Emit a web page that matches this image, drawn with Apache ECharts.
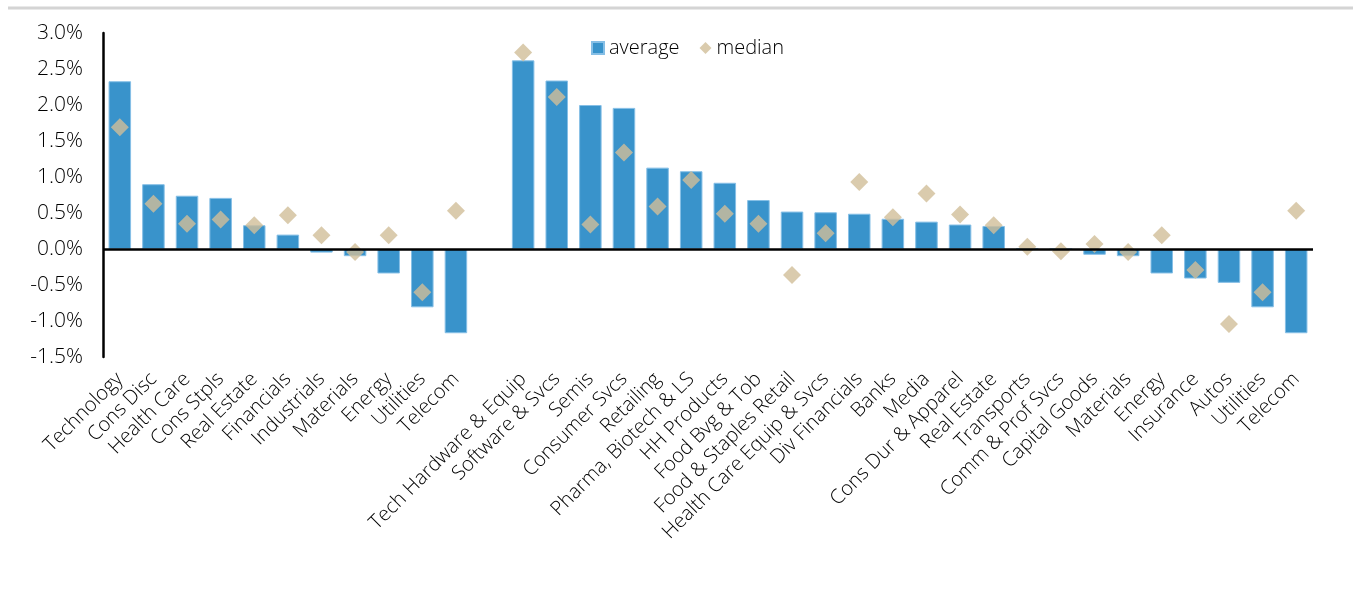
<!DOCTYPE html>
<html>
<head>
<meta charset="utf-8">
<script src="https://cdn.jsdelivr.net/npm/echarts@6/dist/echarts.min.js"></script>
<style>
  html, body { margin: 0; padding: 0; background: #fff; }
  #chart { width: 1353px; height: 610px; }
</style>
</head>
<body>
<div id="chart"></div>
<script>
// Sectors, a spacer slot, then industry groups
const categories = [
  'Technology', 'Cons Disc', 'Health Care', 'Cons Stpls', 'Real Estate', 'Financials',
  'Industrials', 'Materials', 'Energy', 'Utilities', 'Telecom',
  '',
  'Tech Hardware & Equip', 'Software & Svcs', 'Semis', 'Consumer Svcs', 'Retailing',
  'Pharma, Biotech & LS', 'HH Products', 'Food Bvg & Tob', 'Food & Staples Retail',
  'Health Care Equip & Svcs', 'Div Financials', 'Banks', 'Media', 'Cons Dur & Apparel',
  'Real Estate', 'Transports', 'Comm & Prof Svcs', 'Capital Goods', 'Materials',
  'Energy', 'Insurance', 'Autos', 'Utilities', 'Telecom'
];

// Average return, %
const averageValues = [
  2.33, 0.90, 0.74, 0.71, 0.33, 0.20, -0.05, -0.10, -0.34, -0.81, -1.17,
  null,
  2.62, 2.34, 2.00, 1.96, 1.13, 1.08, 0.92, 0.68, 0.52, 0.51, 0.49, 0.42, 0.38, 0.34,
  0.32, 0.01, 0.00, -0.08, -0.10, -0.34, -0.41, -0.47, -0.81, -1.17
];

// Median return, %
const medianValues = [
  1.69, 0.63, 0.35, 0.41, 0.33, 0.47, 0.19, -0.04, 0.19, -0.60, 0.53,
  null,
  2.73, 2.11, 0.34, 1.34, 0.59, 0.96, 0.49, 0.35, -0.36, 0.22, 0.93, 0.44, 0.77, 0.48,
  0.33, 0.03, -0.03, 0.07, -0.04, 0.19, -0.29, -1.04, -0.60, 0.53
];

const yTicks = { min: -1.5, max: 3.0, step: 0.5 };

const FONT = '"Open Sans", "Noto Sans", sans-serif';
const chart = echarts.init(document.getElementById('chart'), null, { renderer: 'canvas' });

chart.setOption({
  animation: false,
  backgroundColor: '#ffffff',
  textStyle: { fontFamily: FONT },
  graphic: [{
    type: 'line',
    shape: { x1: 8, y1: 8, x2: 1353, y2: 8 },
    style: { stroke: '#d4d4d4', lineWidth: 3 },
    silent: true
  }],
  legend: {
    left: 586,
    top: 33,
    itemWidth: 12,
    itemHeight: 12,
    itemGap: 20,
    textStyle: { fontFamily: FONT, fontSize: 20, fontWeight: 300, color: '#000' },
    data: [
      { name: 'average', icon: 'rect' },
      { name: 'median', icon: 'diamond' }
    ]
  },
  grid: { left: 103, right: 40, top: 33, bottom: 253, containLabel: false },
  xAxis: {
    type: 'category',
    data: categories,
    axisLine: { show: false, onZero: false },
    axisTick: { show: false },
    axisLabel: {
      interval: 0,
      rotate: 45,
      margin: 19,
      fontFamily: FONT,
      fontSize: 20,
      fontWeight: 300,
      color: '#000'
    },
    splitLine: { show: false }
  },
  yAxis: {
    type: 'value',
    min: yTicks.min,
    max: yTicks.max,
    interval: yTicks.step,
    axisLine: { show: true, lineStyle: { color: '#000', width: 2.5 } },
    axisTick: { show: false },
    splitLine: { show: false },
    axisLabel: {
      margin: 20,
      fontFamily: FONT,
      fontSize: 21,
      fontWeight: 300,
      color: '#000',
      formatter: v => v.toFixed(1) + '%'
    }
  },
  series: [
    {
      name: 'average',
      type: 'bar',
      data: averageValues,
      barWidth: '67%',
      itemStyle: { color: '#3993cb', borderColor: '#86bfe6', borderWidth: 1 },
      markLine: {
        silent: true,
        symbol: 'none',
        label: { show: false },
        lineStyle: { color: '#000', width: 2.5, type: 'solid' },
        data: [{ yAxis: 0 }]
      },
      z: 2
    },
    {
      name: 'median',
      type: 'scatter',
      data: medianValues,
      symbol: 'diamond',
      symbolSize: 18,
      itemStyle: { color: '#d1be99' },
      z: 4
    }
  ]
});
</script>
</body>
</html>
